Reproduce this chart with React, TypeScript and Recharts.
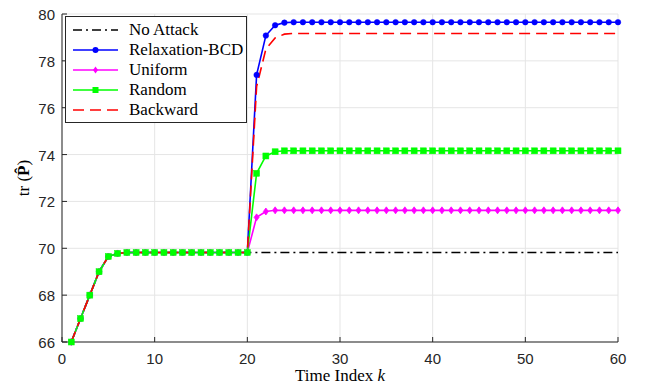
import React from 'react';
import { LineChart, Line, XAxis, YAxis, CartesianGrid } from 'recharts';

const timeIndex: number[] = Array.from({ length: 60 }, (_, i) => i + 1);
const preAttack: number[] = [66, 67, 68, 69, 69.65, 69.78, 69.82, 69.82, 69.82, 69.82, 69.82, 69.82, 69.82, 69.82, 69.82, 69.82, 69.82, 69.82, 69.82, 69.82];
const noAttackPost: number[] = Array(40).fill(69.82);
const bcdPost: number[] = [77.4, 79.08, 79.52, 79.63, ...Array(36).fill(79.65)];
const uniformPost: number[] = [71.32, 71.57, 71.62, ...Array(37).fill(71.62)];
const randomPost: number[] = [73.2, 73.94, 74.12, 74.16, ...Array(36).fill(74.16)];
const backwardPost: number[] = [76.9, 78.5, 78.98, 79.14, ...Array(36).fill(79.17)];
const xTicks: number[] = [0, 10, 20, 30, 40, 50, 60];
const yTicks: number[] = [66, 68, 70, 72, 74, 76, 78, 80];

const noAttack = [...preAttack, ...noAttackPost];
const bcd = [...preAttack, ...bcdPost];
const uniform = [...preAttack, ...uniformPost];
const random = [...preAttack, ...randomPost];
const backward = [...preAttack, ...backwardPost];

const data = timeIndex.map((k, i) => ({
  k,
  noAttack: noAttack[i],
  bcd: bcd[i],
  uniform: uniform[i],
  random: random[i],
  backward: backward[i],
}));

const AX = '#262626';
const TICKFONT = '"Liberation Sans", Arial, sans-serif';
const SERIF = '"Liberation Serif", "Times New Roman", serif';

const XTick = (props: any) => {
  const { x, y, payload } = props;
  const axisY = y - 8;
  return (
    <g>
      <line x1={x} x2={x} y1={axisY} y2={axisY - 5} stroke={AX} strokeWidth={1} />
      <text x={x} y={y} dy={14} textAnchor="middle" fontSize={15} fontFamily={TICKFONT} fill={AX}>
        {payload.value}
      </text>
    </g>
  );
};

const YTick = (props: any) => {
  const { x, y, payload } = props;
  const axisX = x + 7;
  return (
    <g>
      <line x1={axisX} x2={axisX + 5} y1={y} y2={y} stroke={AX} strokeWidth={1} />
      <text x={x} y={y} dy={6} textAnchor="end" fontSize={15} fontFamily={TICKFONT} fill={AX}>
        {payload.value}
      </text>
    </g>
  );
};

const TopTick = (props: any) => {
  const { x, y } = props;
  return <line x1={x} x2={x} y1={y} y2={y + 5} stroke={AX} strokeWidth={1} />;
};

const RightTick = (props: any) => {
  const { x, y } = props;
  return <line x1={x} x2={x - 5} y1={y} y2={y} stroke={AX} strokeWidth={1} />;
};

const SquareDot = (props: any) => {
  const { cx, cy, index } = props;
  if (cx == null || cy == null) return <g key={index} />;
  return <rect key={index} x={cx - 3} y={cy - 3} width={6} height={6} fill="#00ff00" stroke="#00ff00" strokeWidth={0.5} />;
};

const DiamondDot = (props: any) => {
  const { cx, cy, index } = props;
  if (cx == null || cy == null) return <g key={index} />;
  return (
    <path
      key={index}
      d={`M${cx},${cy - 3.5} L${cx + 2.5},${cy} L${cx},${cy + 3.5} L${cx - 2.5},${cy} Z`}
      fill="#ff00ff"
      stroke="#ff00ff"
      strokeWidth={0.8}
    />
  );
};

const legendItems = [
  { name: 'No Attack', color: '#000000', dash: '9 4 2 4', marker: 'none' },
  { name: 'Relaxation-BCD', color: '#0000ff', dash: '', marker: 'circle' },
  { name: 'Uniform', color: '#ff00ff', dash: '', marker: 'diamond' },
  { name: 'Random', color: '#00ff00', dash: '', marker: 'square' },
  { name: 'Backward', color: '#ff0000', dash: '11 6', marker: 'none' },
];

const LegendBox = () => (
  <div
    style={{
      position: 'absolute',
      left: 65,
      top: 16,
      width: 182,
      height: 107,
      border: '1px solid #262626',
      background: '#fff',
      boxSizing: 'border-box',
      paddingTop: 3,
    }}
  >
    {legendItems.map((it) => (
      <div key={it.name} style={{ display: 'flex', alignItems: 'center', height: 20 }}>
        <svg width={63} height={20} style={{ display: 'block' }}>
          <line x1={7} x2={52} y1={10} y2={10} stroke={it.color} strokeWidth={1.6} strokeDasharray={it.dash} />
          {it.marker === 'circle' && <circle cx={29.5} cy={10} r={3} fill={it.color} />}
          {it.marker === 'square' && <rect x={26.5} y={7} width={6} height={6} fill={it.color} />}
          {it.marker === 'diamond' && <path d="M29.5,6.5 L32,10 L29.5,13.5 L27,10 Z" fill={it.color} />}
        </svg>
        <span style={{ fontFamily: SERIF, fontSize: 17, color: '#000', lineHeight: '20px' }}>{it.name}</span>
      </div>
    ))}
  </div>
);

const YLabel = () => (
  <text x={0} y={0} transform="translate(29,178) rotate(-90)" textAnchor="middle" fontFamily={SERIF} fontSize={17} fill="#000">
    tr (<tspan fontWeight="bold">P&#770;</tspan>)
  </text>
);

const XLabel = () => (
  <text x={340} y={381} textAnchor="middle" fontFamily={SERIF} fontSize={17} fill="#000">
    Time Index <tspan fontStyle="italic">k</tspan>
  </text>
);

export default function App() {
  return (
    <div style={{ position: 'absolute', left: 0, top: 0, width: 646, height: 388, background: '#fff' }}>
      <LineChart width={646} height={388} data={data} margin={{ top: 14, right: 28, left: 0, bottom: 0 }}>
        <CartesianGrid stroke="#e5e5e5" strokeWidth={1} />
        <XAxis
          dataKey="k"
          type="number"
          domain={[0, 60]}
          ticks={xTicks}
          interval={0}
          height={46}
          tickSize={0}
          tickMargin={8}
          tick={<XTick />}
          axisLine={{ stroke: AX }}
          label={<XLabel />}
        />
        <XAxis
          xAxisId="top"
          orientation="top"
          dataKey="k"
          type="number"
          domain={[0, 60]}
          ticks={xTicks}
          interval={0}
          height={0}
          tickSize={0}
          tick={<TopTick />}
          axisLine={{ stroke: AX }}
        />
        <YAxis
          type="number"
          domain={[66, 80]}
          ticks={yTicks}
          interval={0}
          width={62}
          tickSize={0}
          tickMargin={7}
          tick={<YTick />}
          axisLine={{ stroke: AX }}
          label={<YLabel />}
        />
        <YAxis
          yAxisId="right"
          orientation="right"
          type="number"
          domain={[66, 80]}
          ticks={yTicks}
          interval={0}
          width={0}
          tickSize={0}
          tick={<RightTick />}
          axisLine={{ stroke: AX }}
        />
        <Line dataKey="noAttack" stroke="#000000" strokeWidth={1.6} strokeDasharray="9 4 2 4" dot={false} isAnimationActive={false} />
        <Line dataKey="bcd" stroke="#0000ff" strokeWidth={1.6} dot={{ r: 2.8, fill: '#0000ff', stroke: '#0000ff', strokeWidth: 0.5 }} isAnimationActive={false} />
        <Line dataKey="uniform" stroke="#ff00ff" strokeWidth={1.6} dot={<DiamondDot />} isAnimationActive={false} />
        <Line dataKey="random" stroke="#00ff00" strokeWidth={1.6} dot={<SquareDot />} isAnimationActive={false} />
        <Line dataKey="backward" stroke="#ff0000" strokeWidth={1.6} strokeDasharray="11 6" dot={false} isAnimationActive={false} />
      </LineChart>
      <LegendBox />
    </div>
  );
}
